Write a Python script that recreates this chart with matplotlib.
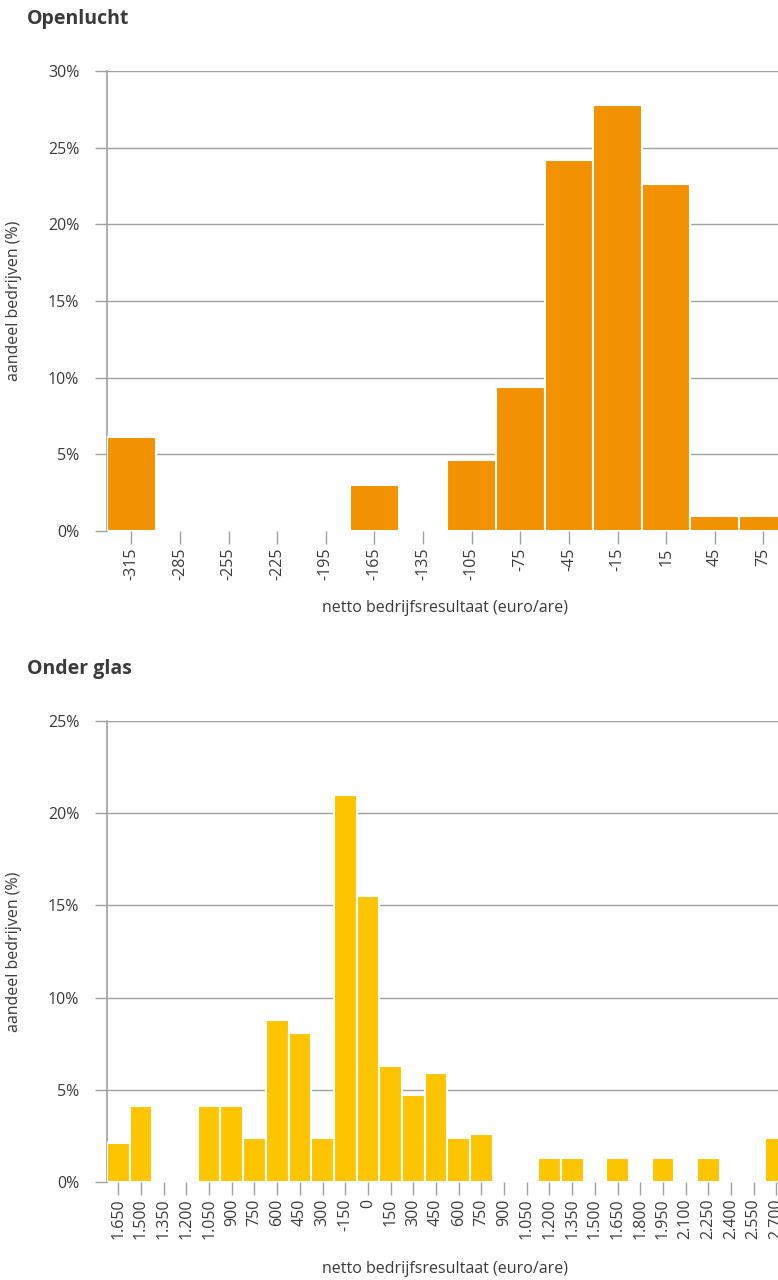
import matplotlib
matplotlib.use('Agg')
import matplotlib.pyplot as plt
from matplotlib.ticker import FuncFormatter

plt.rcParams['font.family'] = ['Open Sans', 'DejaVu Sans']

# Openlucht
cat_open = ['-315', '-285', '-255', '-225', '-195', '-165', '-135',
            '-105', '-75', '-45', '-15', '15', '45', '75']
val_open = [6.1, 0, 0, 0, 0, 3.0, 0, 4.6, 9.4, 24.2, 27.8, 22.6, 1.0, 1.0]

# Onder glas
cat_glas = ['1.650', '1.500', '1.350', '1.200', '1.050', '900', '750', '600',
            '450', '300', '-150', '0', '150', '300', '450', '600', '750', '900',
            '1.050', '1.200', '1.350', '1.500', '1.650', '1.800', '1.950',
            '2.100', '2.250', '2.400', '2.550', '2.700']
val_glas = [2.1, 4.1, 0, 0, 4.1, 4.1, 2.4, 8.8, 8.1, 2.4, 21.0, 15.5, 6.3,
            4.7, 5.9, 2.4, 2.6, 0, 0, 1.3, 1.3, 0, 1.3, 0, 1.3, 0, 1.3, 0, 0, 2.4]

grid_c = '#a0a0a0'
text_c = '#3a3a3a'

fig = plt.figure(figsize=(7.78, 12.8), dpi=100)


def draw(ax, cats, vals, color, ymax, title, xlab_y, title_y):
    x = range(len(cats))
    ax.bar(x, vals, width=1.0, color=color, edgecolor='white', linewidth=1.5, zorder=3)
    ax.set_xlim(-0.5, len(cats) - 0.5)
    ax.set_ylim(0, ymax)
    ax.set_yticks(range(0, ymax + 1, 5))
    ax.yaxis.set_major_formatter(FuncFormatter(lambda v, p: f'{int(v)}%'))
    ax.set_xticks(list(x))
    ax.set_xticklabels(cats, rotation=90)
    ax.grid(axis='y', color=grid_c, linewidth=1, zorder=1)
    for s in ['top', 'right', 'bottom']:
        ax.spines[s].set_visible(False)
    ax.spines['left'].set_color(grid_c)
    ax.spines['left'].set_linewidth(1.2)
    ax.tick_params(axis='both', colors=grid_c, labelcolor=text_c, labelsize=11.5,
                   length=9, width=1)
    ax.tick_params(axis='y', pad=11)
    ax.tick_params(axis='x', pad=3)
    ax.set_ylabel('aandeel bedrijven (%)', color=text_c, fontsize=11.5)
    ax.yaxis.set_label_coords(-0.125, 0.5)
    ax.set_xlabel('netto bedrijfsresultaat (euro/are)', color=text_c, fontsize=11.5)
    ax.xaxis.set_label_coords(0.496, xlab_y)
    ax.set_title(title, loc='left', x=-0.1175, y=title_y, fontsize=14, fontweight='bold', color=text_c)


ax1 = fig.add_axes([0.1375, 0.5852, 0.875, 0.3593])
draw(ax1, cat_open, val_open, '#f39200', 30, 'Openlucht', -0.15, 1.085)

ax2 = fig.add_axes([0.1375, 0.0766, 0.875, 0.3601])
draw(ax2, cat_glas, val_glas, '#fdc400', 25, 'Onder glas', -0.171, 1.085)

fig.savefig('out.png', dpi=100)
